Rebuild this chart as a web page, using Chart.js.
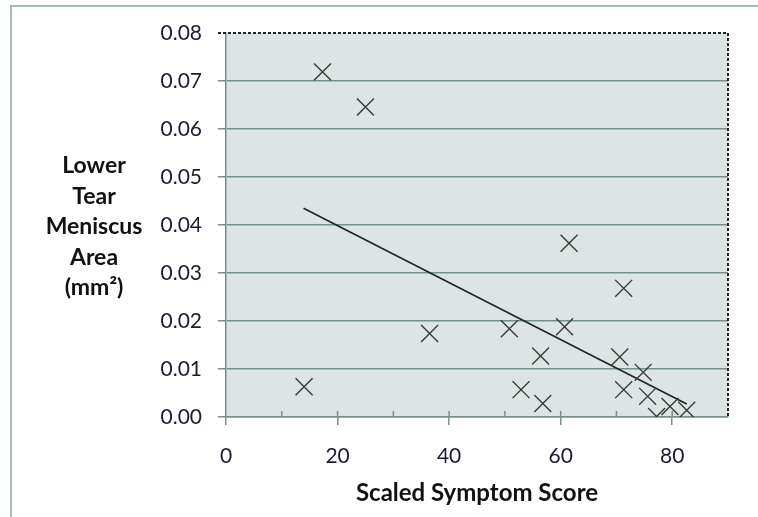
<!DOCTYPE html>
<html>
<head>
<meta charset="utf-8">
<script src="https://cdn.jsdelivr.net/npm/chart.js@4/dist/chart.umd.min.js"></script>
<style>
  html, body { margin: 0; padding: 0; background: #fff; }
  #wrap { width: 758px; height: 517px; }
</style>
</head>
<body>
<div id="wrap"><canvas id="scatter-chart"></canvas></div>
<script>
// symptom score vs lower tear meniscus area
var scores = [17.3, 25.0, 14.0, 36.5, 50.8, 56.4, 52.9, 56.8, 60.7, 61.5, 71.3, 70.6, 71.3, 74.8, 75.6, 77.2, 79.6, 82.6];
var areas  = [0.0719, 0.0646, 0.0063, 0.0174, 0.0184, 0.0127, 0.0057, 0.0028, 0.0188, 0.0362, 0.0268, 0.0125, 0.0057, 0.0093, 0.0043, 0.0001, 0.0022, 0.0014];
var trendX = [13.9, 82.6];
var trendY = [0.0435, 0.0027];
var yTitleLines = ["Lower", "Tear", "Meniscus", "Area", "(mm\u00B2)"];
var xTitle = "Scaled Symptom Score";

var gridCol = "#758f8f";
var fontName = "Lato, 'Open Sans', sans-serif";

function toPoints(xs, ys) {
    return xs.map(function (x, i) { return { x: x, y: ys[i] }; });
}

var decor = {
    id: 'decor',
    beforeDraw: function (chart) {
        var c = chart.ctx, a = chart.chartArea;
        c.save();
        c.fillStyle = "#dde4e4";
        c.fillRect(a.left, a.top, a.right - a.left, a.bottom - a.top);
        // outer frame
        c.strokeStyle = "#a9b9b9";
        c.lineWidth = 2;
        c.beginPath();
        c.moveTo(11, chart.height);
        c.lineTo(11, 6);
        c.lineTo(chart.width, 6);
        c.stroke();
        c.restore();
    },
    afterDatasetsDraw: function (chart) {
        var c = chart.ctx, a = chart.chartArea, xs = chart.scales.x;
        c.save();
        // inner ticks on x axis every 10
        c.strokeStyle = gridCol;
        c.lineWidth = 1.5;
        for (var v = 10; v < 90; v += 10) {
            var px = xs.getPixelForValue(v);
            c.beginPath();
            c.moveTo(px, a.bottom);
            c.lineTo(px, a.bottom - 6);
            c.stroke();
        }
        // dashed top and right border
        c.strokeStyle = "#222";
        c.lineWidth = 2;
        c.setLineDash([3, 2]);
        c.beginPath();
        c.moveTo(a.left - 8, a.top);
        c.lineTo(a.right, a.top);
        c.lineTo(a.right, a.bottom);
        c.stroke();
        c.setLineDash([]);
        // titles
        c.fillStyle = "#111";
        c.textAlign = "center";
        c.textBaseline = "middle";
        c.font = "bold 23px " + fontName;
        yTitleLines.forEach(function (t, i) {
            c.fillText(t, 94, 166 + i * 30.5);
        });
        c.font = "bold 24px " + fontName;
        c.fillText(xTitle, (a.left + a.right) / 2, 493);
        c.restore();
    }
};

new Chart(document.getElementById("scatter-chart"), {
    type: 'scatter',
    data: {
        datasets: [{
            data: toPoints(scores, areas),
            pointStyle: 'crossRot',
            pointRadius: 12,
            pointHoverRadius: 12,
            borderColor: "#3a3a3a",
            borderWidth: 1.4,
            backgroundColor: "#3a3a3a"
        }, {
            type: 'line',
            data: toPoints(trendX, trendY),
            borderColor: "#222",
            borderWidth: 1.6,
            pointRadius: 0,
            fill: false
        }]
    },
    options: {
        responsive: true,
        maintainAspectRatio: false,
        animation: false,
        layout: { padding: { left: 0, top: 33, right: 30, bottom: 0 } },
        plugins: {
            legend: { display: false },
            tooltip: { enabled: false }
        },
        scales: {
            x: {
                min: 0,
                max: 90,
                ticks: {
                    stepSize: 10,
                    color: "#1c1c2c",
                    padding: 19,
                    font: { family: fontName, size: 21 },
                    callback: function (v) { return v % 20 === 0 ? v : ''; }
                },
                grid: {
                    drawOnChartArea: false,
                    tickLength: 8,
                    lineWidth: 1.5,
                    color: function (ctx) {
                        return ctx.tick && ctx.tick.value % 20 === 0 ? gridCol : 'rgba(0,0,0,0)';
                    }
                },
                border: { color: gridCol, width: 1.5 },
                afterFit: function (s) { s.height = 100; }
            },
            y: {
                min: 0,
                max: 0.08,
                ticks: {
                    stepSize: 0.01,
                    color: "#1c1c2c",
                    padding: 16,
                    font: { family: fontName, size: 21 },
                    callback: function (v) { return v.toFixed(2); }
                },
                grid: {
                    tickLength: 8,
                    lineWidth: 1.5,
                    color: function (ctx) {
                        return ctx.tick && ctx.tick.value >= 0.0799 ? 'rgba(0,0,0,0)' : gridCol;
                    }
                },
                border: { color: gridCol, width: 1.5 },
                afterFit: function (s) { s.width = 226; }
            }
        }
    },
    plugins: [decor]
});
</script>
</body>
</html>
